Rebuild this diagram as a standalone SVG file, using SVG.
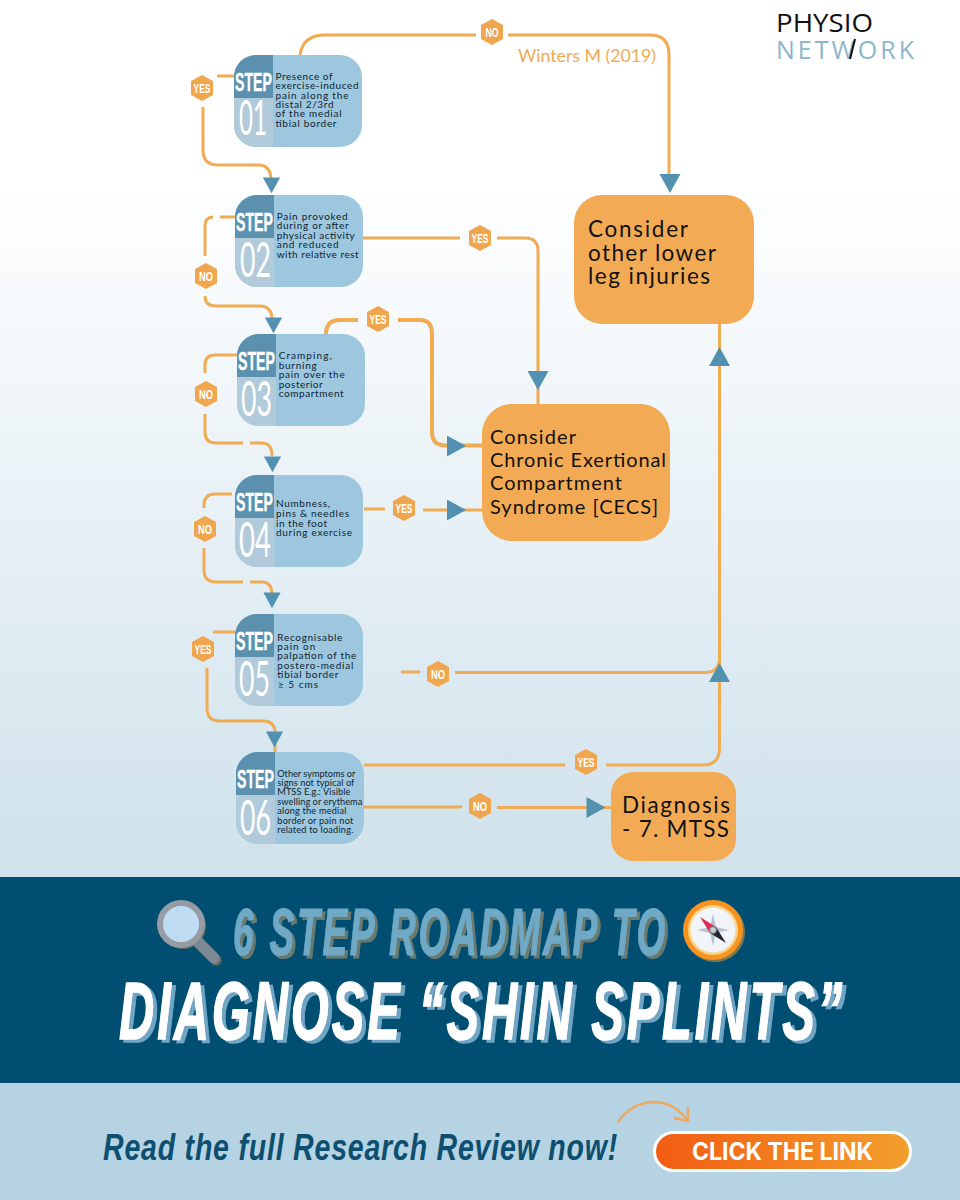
<svg xmlns="http://www.w3.org/2000/svg" width="960" height="1200" viewBox="0 0 960 1200">
<style>
.c{fill:none;stroke:#f0ab55;stroke-width:3;stroke-linecap:butt}
.t{stroke-width:4}
.ar{fill:#5291b0}
.hx{fill:#f0a64f}
.ht{font:700 13px "Liberation Sans Narrow","Liberation Sans",sans-serif;fill:#fff;text-anchor:middle}
.st{font:700 25px "Liberation Sans Narrow","Liberation Sans",sans-serif;fill:#fff;stroke:#fff;stroke-width:.4}
.nm{font:400 48px Lato,"Liberation Sans",sans-serif;fill:#fff}
.bd{font:400 10px Lato,"Liberation Sans",sans-serif;fill:#10242f}
.bs{font-size:9.200px}
.or{fill:#f2ab54}
.ot{font:400 22.500px Lato,"Liberation Sans",sans-serif;fill:#111}
.ot2{font-size:20px}
.big{font:italic 700 66px "Liberation Sans Narrow","Liberation Sans",sans-serif;letter-spacing:5px;stroke-width:1.200px}
.big2{font:italic 700 82px "Liberation Sans Narrow","Liberation Sans",sans-serif;letter-spacing:5px;stroke-width:1.500px}
</style>
<defs>
<linearGradient id="bg" x1="0" y1="0" x2="0" y2="1"><stop offset="0" stop-color="#fff"/><stop offset=".2" stop-color="#fff"/><stop offset=".5" stop-color="#edf4f8"/><stop offset="1" stop-color="#cfe1eb"/></linearGradient>
<linearGradient id="btn" x1="0" y1="0" x2="1" y2="0"><stop offset="0" stop-color="#f25c12"/><stop offset="1" stop-color="#f39f2e"/></linearGradient>
<filter id="sh1" x="-5%" y="-20%" width="110%" height="140%"><feDropShadow dx="3" dy="3" stdDeviation="0" flood-color="#6b7a6e"/></filter>
<filter id="sh2" x="-5%" y="-20%" width="110%" height="140%"><feDropShadow dx="4" dy="3" stdDeviation="0" flood-color="#6fa5c3"/></filter>
<clipPath id="sc"><rect width="128" height="92" rx="22"/></clipPath>
<g id="panel"><g clip-path="url(#sc)"><rect width="128" height="92" fill="#9cc7df"/><rect width="39" height="43" fill="#5b91af"/><rect y="43" width="39" height="49" fill="#b1cbdb"/></g></g>
<polygon id="hex" class="hx" points="0,-13 11,-7 11,7 0,13 -11,7 -11,-7"/>
<polygon id="tri" class="ar" points="-9,-10.500 10,0 -9,10.500"/>
</defs>
<rect width="960" height="877" fill="url(#bg)"/>
<rect y="877" width="960" height="206" fill="#004f73"/>
<rect y="1083" width="960" height="117" fill="#b5d3e2"/>

<g id="connectors">
<path class="c" d="M300 55Q303 35 325 35H476M508 35H650Q669 35 669 55V175"/>
<path class="c" d="M234 76H217M203 107V150Q203 165 218 165H258Q271 165 271 180"/>
<path class="c" d="M235 217H220M213 217Q205 217 205 226V256M205 296Q205 306 216 306H260Q272 306 272 320"/>
<path class="c t" d="M326 334Q326 320 340 320H358M398 320H420Q432 320 432 334V432Q432 445.500 446 445.500H482"/>
<path class="c" d="M237 355H215Q205 355 205 365V373M205 414V432Q205 443 216 443H243M250 443H262Q272 443 272 456"/>
<path class="c" d="M232 494H215Q204 494 204 505V508M204 548V570Q204 582 216 582H243M250 582H262Q272 582 272 595"/>
<path class="c" d="M235 632H213M207 668V708Q207 721 220 721H263Q275 721 275 733V752"/>
<path class="c" d="M364 509H385M423 510H482"/>
<path class="c" d="M363 238H460M497 238H525Q538 238 538 251V404"/>
<path class="c" d="M401 672H420M455 672.500H705Q719.500 672.500 719.500 658"/>
<path class="c" d="M364 765H565M606 765H703Q719.500 765 719.500 748V324"/>
<path class="c" d="M364 807H462M497 807.500H611"/>
<use href="#tri" transform="translate(670,183) rotate(90)"/>
<use href="#tri" transform="translate(271.500,185) rotate(90) scale(.82)"/>
<use href="#tri" transform="translate(273.500,325) rotate(90) scale(.82)"/>
<use href="#tri" transform="translate(456,446)"/>
<use href="#tri" transform="translate(272.500,464) rotate(90) scale(.82)"/>
<use href="#tri" transform="translate(272,600) rotate(90) scale(.82)"/>
<use href="#tri" transform="translate(274.500,739) rotate(90) scale(.82)"/>
<use href="#tri" transform="translate(456,510)"/>
<use href="#tri" transform="translate(538,380) rotate(90)"/>
<use href="#tri" transform="translate(719.500,673) rotate(-90)"/>
<use href="#tri" transform="translate(719.500,357) rotate(-90)"/>
<use href="#tri" transform="translate(595.500,807.500)"/>
</g>

<g id="label-no-top"><use href="#hex" x="492" y="32"/><text class="ht" x="492" y="37" textLength="13" lengthAdjust="spacingAndGlyphs">NO</text></g>
<g id="label-yes-1"><use href="#hex" x="202" y="88"/><text class="ht" x="202" y="93" textLength="17" lengthAdjust="spacingAndGlyphs">YES</text></g>
<g id="label-no-2"><use href="#hex" x="206" y="276"/><text class="ht" x="206" y="281" textLength="14" lengthAdjust="spacingAndGlyphs">NO</text></g>
<g id="label-yes-2"><use href="#hex" x="480" y="238"/><text class="ht" x="480" y="243" textLength="17" lengthAdjust="spacingAndGlyphs">YES</text></g>
<g id="label-no-3"><use href="#hex" x="206" y="394"/><text class="ht" x="206" y="399" textLength="14" lengthAdjust="spacingAndGlyphs">NO</text></g>
<g id="label-yes-3"><use href="#hex" x="378" y="319"/><text class="ht" x="378" y="324" textLength="17" lengthAdjust="spacingAndGlyphs">YES</text></g>
<g id="label-no-4"><use href="#hex" x="205" y="529"/><text class="ht" x="205" y="534" textLength="14" lengthAdjust="spacingAndGlyphs">NO</text></g>
<g id="label-yes-4"><use href="#hex" x="404" y="508"/><text class="ht" x="404" y="513" textLength="17" lengthAdjust="spacingAndGlyphs">YES</text></g>
<g id="label-yes-5"><use href="#hex" x="203" y="649"/><text class="ht" x="203" y="654" textLength="17" lengthAdjust="spacingAndGlyphs">YES</text></g>
<g id="label-no-5"><use href="#hex" x="438" y="674"/><text class="ht" x="438" y="679" textLength="14" lengthAdjust="spacingAndGlyphs">NO</text></g>
<g id="label-yes-6"><use href="#hex" x="586" y="762"/><text class="ht" x="586" y="767" textLength="17" lengthAdjust="spacingAndGlyphs">YES</text></g>
<g id="label-no-6"><use href="#hex" x="480" y="806"/><text class="ht" x="480" y="811" textLength="14" lengthAdjust="spacingAndGlyphs">NO</text></g>

<g id="step1"><use href="#panel" x="234" y="55"/>
<text class="st" x="235" y="91" textLength="37" lengthAdjust="spacingAndGlyphs">STEP</text>
<text class="nm" x="239" y="135" textLength="28" lengthAdjust="spacingAndGlyphs">01</text>
<g class="bd"><text x="275.500" y="80" textLength="57">Presence of</text><text x="275.500" y="89.300" textLength="83">exercise-induced</text><text x="275.500" y="98.700" textLength="73">pain along the</text><text x="275.500" y="108" textLength="58">distal 2/3rd</text><text x="275.500" y="117.300" textLength="66">of the medial</text><text x="275.500" y="126.700" textLength="61">tibial border</text></g></g>

<g id="step2"><use href="#panel" x="235" y="195"/>
<text class="st" x="236" y="231" textLength="37" lengthAdjust="spacingAndGlyphs">STEP</text>
<text class="nm" x="240" y="277" textLength="31" lengthAdjust="spacingAndGlyphs">02</text>
<g class="bd"><text x="276.700" y="220" textLength="71">Pain provoked</text><text x="276.700" y="229.300" textLength="72">during or after</text><text x="276.700" y="239" textLength="78">physical activity</text><text x="276.700" y="248.300" textLength="62">and reduced</text><text x="276.700" y="257.700" textLength="82">with relative rest</text></g></g>

<g id="step3"><use href="#panel" x="237" y="334"/>
<text class="st" x="238" y="370" textLength="37" lengthAdjust="spacingAndGlyphs">STEP</text>
<text class="nm" x="241" y="416" textLength="31" lengthAdjust="spacingAndGlyphs">03</text>
<g class="bd"><text x="278.700" y="359.300" textLength="53">Cramping,</text><text x="278.700" y="368.700" textLength="38">burning</text><text x="278.700" y="378.300" textLength="66">pain over the</text><text x="278.700" y="387.700" textLength="44">posterior</text><text x="278.700" y="397" textLength="65">compartment</text></g></g>

<g id="step4"><use href="#panel" x="235" y="475"/>
<text class="st" x="236" y="511" textLength="37" lengthAdjust="spacingAndGlyphs">STEP</text>
<text class="nm" x="239" y="557" textLength="32" lengthAdjust="spacingAndGlyphs">04</text>
<g class="bd"><text x="276" y="507.300" textLength="54">Numbness,</text><text x="276" y="517.300" textLength="73">pins &amp; needles</text><text x="276" y="526.700" textLength="51">in the foot</text><text x="276" y="536" textLength="76">during exercise</text></g></g>

<g id="step5"><use href="#panel" x="235" y="614"/>
<text class="st" x="236" y="650" textLength="37" lengthAdjust="spacingAndGlyphs">STEP</text>
<text class="nm" x="239" y="696" textLength="31" lengthAdjust="spacingAndGlyphs">05</text>
<g class="bd"><text x="277.300" y="640.700" textLength="65">Recognisable</text><text x="277.300" y="650" textLength="38">pain on</text><text x="277.300" y="659.300" textLength="79">palpation of the</text><text x="277.300" y="668.700" textLength="76">postero-medial</text><text x="277.300" y="678.300" textLength="61">tibial border</text><text x="278" y="687.700" textLength="40">≥ 5 cms</text></g></g>

<g id="step6"><use href="#panel" x="236" y="752"/>
<text class="st" x="237" y="788" textLength="37" lengthAdjust="spacingAndGlyphs">STEP</text>
<text class="nm" x="240" y="835" textLength="31" lengthAdjust="spacingAndGlyphs">06</text>
<g class="bd bs"><text x="277.300" y="776.700" textLength="78">Other symptoms or</text><text x="277.300" y="786" textLength="77">signs not typical of</text><text x="277.300" y="795.300" textLength="73">MTSS E.g.: Visible</text><text x="277.300" y="805" textLength="85">swelling or erythema</text><text x="277.300" y="814.300" textLength="69">along the medial</text><text x="277.300" y="823.700" textLength="76">border or pain not</text><text x="277.300" y="833.300" textLength="76">related to loading.</text></g></g>

<g id="other-injuries"><rect class="or" x="574" y="195" width="180" height="129" rx="28"/>
<g class="ot"><text x="588" y="237" textLength="100">Consider</text><text x="588" y="261" textLength="128">other lower</text><text x="588" y="284" textLength="122">leg injuries</text></g></g>

<g id="cecs"><rect class="or" x="482" y="404" width="188" height="137" rx="30"/>
<g class="ot ot2"><text x="490" y="444" textLength="86">Consider</text><text x="490" y="467" textLength="176">Chronic Exertional</text><text x="490" y="490" textLength="132">Compartment</text><text x="490" y="514" textLength="168">Syndrome [CECS]</text></g></g>

<g id="diagnosis"><rect class="or" x="611" y="772" width="125" height="89" rx="22"/>
<g class="ot"><text x="622" y="813" textLength="108">Diagnosis</text><text x="622" y="837" textLength="107">- 7. MTSS</text></g></g>

<text x="518" y="62" font-family="Lato,'Liberation Sans',sans-serif" font-size="17" fill="#f0ab55" textLength="138" lengthAdjust="spacingAndGlyphs">Winters M (2019)</text>

<g id="logo" font-family="'Open Sans','Liberation Sans',sans-serif" font-size="25">
<text x="776" y="32" fill="#111" textLength="97" lengthAdjust="spacingAndGlyphs">PHYSIO</text>
<text x="776" y="59" fill="#8db6cd" textLength="138">NETWORK</text>
<path d="M855 39L850 59" stroke="#111" stroke-width="2" fill="none"/>
</g>

<g id="title">
<g id="magnifier"><path d="M199 943L216 960" stroke="#6d7060" stroke-width="11" stroke-linecap="round"/><circle cx="183" cy="926" r="23" fill="#6d7060"/><path d="M197 941L214 958" stroke="#7d8894" stroke-width="11" stroke-linecap="round"/><circle cx="181" cy="924" r="21" fill="#c0dcf3" stroke="#959ca6" stroke-width="6"/></g>
<text class="big" x="233" y="955" fill="#6fa9c6" stroke="#6fa9c6" filter="url(#sh1)" textLength="435" lengthAdjust="spacingAndGlyphs">6 STEP ROADMAP TO</text>
<g id="compass"><circle cx="715" cy="932" r="30" fill="#7a7a50"/><circle cx="713" cy="930" r="30" fill="#f7931e"/><circle cx="713" cy="930" r="25" fill="#fbd48a"/><circle cx="713" cy="930" r="22.500" fill="#f1f4f9"/><polygon points="713,914 716,927 729,930 716,933 713,946 710,933 697,930 710,927" fill="#b9c4d3"/><polygon points="700,917 716,927 710,933" fill="#dc2d52"/><polygon points="726,943 716,927 710,933" fill="#23262c"/><circle cx="713" cy="930" r="3.500" fill="#c5cbd3" stroke="#6a6f78"/></g>
<text class="big2" x="119" y="1039" fill="#fff" stroke="#fff" filter="url(#sh2)" textLength="726" lengthAdjust="spacingAndGlyphs">DIAGNOSE “SHIN SPLINTS”</text>
</g>

<text x="103" y="1160" font-family="'Liberation Sans Narrow','Liberation Sans',sans-serif" font-style="italic" font-weight="700" font-size="36" letter-spacing="1" fill="#0d4f70" textLength="515" lengthAdjust="spacingAndGlyphs">Read the full Research Review now!</text>
<g id="cta-arrow" fill="none" stroke="#f0a860" stroke-width="2.500"><path d="M618 1122Q632 1102 655 1102Q675 1103 687 1120"/><path d="M674 1118L688 1121L688 1107"/></g>
<g id="button"><rect x="654.500" y="1132.500" width="256" height="38" rx="19" fill="url(#btn)" stroke="#fff" stroke-width="3"/>
<text x="692" y="1160" font-family="Inter,'Liberation Sans',sans-serif" font-weight="700" font-size="24" fill="#fff" textLength="181" lengthAdjust="spacingAndGlyphs">CLICK THE LINK</text></g>
</svg>
